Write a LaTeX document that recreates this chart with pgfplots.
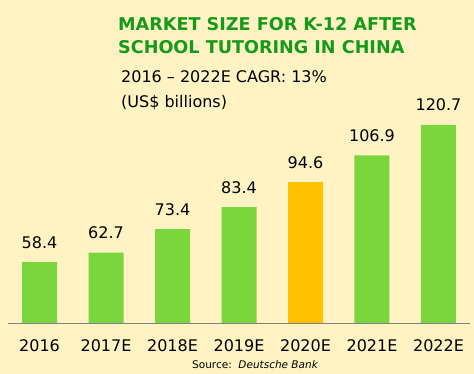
\documentclass[border=0pt]{standalone}
\usepackage{fontspec}
\setmainfont{DejaVu Sans}
\usepackage{pgfplots}
\pgfplotsset{compat=1.18}
\definecolor{bg}{HTML}{FFF3C4}
\definecolor{bargreen}{HTML}{7AD63C}
\definecolor{barorange}{HTML}{FFC000}
\definecolor{titlegreen}{HTML}{169A1A}
\begin{document}
\begin{tikzpicture}[x=1pt,y=1pt]
\fill[bg] (0,0) rectangle (474,374);
\begin{axis}[
  at={(8pt,51pt)}, anchor=south west,
  scale only axis,
  width=462pt, height=218.5pt,
  xmin=-0.474, xmax=6.474,
  ymin=30.7, ymax=130,
  ybar, bar width=35pt,
  axis x line*=bottom, hide y axis,
  axis line style={draw=black!50, line width=0.8pt},
  xtick={0,...,6}, major tick length=0pt,
  xticklabels={2016,2017E,2018E,2019E,2020E,2021E,2022E},
  xticklabel style={font=\fontsize{16}{18}\selectfont, anchor=base, yshift=-29pt, inner sep=0pt},
  point meta=explicit symbolic,
  nodes near coords,
  every node near coord/.append style={font=\fontsize{16}{18}\selectfont, anchor=base, yshift=14pt, inner sep=0pt, text=black},
  axis on top,
]
\addplot[fill=bargreen, draw=none, bar shift=0pt] coordinates {
 (0,58.4) [58.4] (1,62.7) [62.7] (2,73.4) [73.4] (3,83.4) [83.4] (5,106.9) [106.9] (6,120.7) [120.7]};
\addplot[fill=barorange, draw=none, bar shift=0pt] coordinates {(4,94.6) [94.6]};
\end{axis}
\node[anchor=base west, inner sep=0pt, text=titlegreen, font=\fontsize{17.6}{20}\selectfont\bfseries] at (118,343) {MARKET SIZE FOR K-12 AFTER};
\node[anchor=base west, inner sep=0pt, text=titlegreen, font=\fontsize{17.6}{20}\selectfont\bfseries] at (118,320) {SCHOOL TUTORING IN CHINA};
\node[anchor=base west, inner sep=0pt, font=\fontsize{16}{18}\selectfont] at (121,291) {2016 – 2022E CAGR: 13\%};
\node[anchor=base west, inner sep=0pt, font=\fontsize{16}{18}\selectfont] at (121,266) {(US\$ billions)};
\node[anchor=base west, inner sep=0pt, font=\fontsize{10.5}{12}\selectfont] at (192,5) {Source:\ \ \textit{Deutsche Bank}};
\end{tikzpicture}
\end{document}
